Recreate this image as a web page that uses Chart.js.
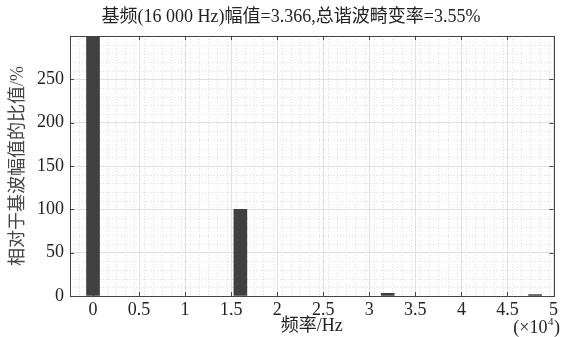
<!DOCTYPE html>
<html><head><meta charset="utf-8">
<script src="https://cdn.jsdelivr.net/npm/chart.js@4"></script>
<style>html,body{margin:0;padding:0;background:#fff}#c{display:block}</style>
</head><body>
<div style="width:561px;height:337px"><canvas id="c" width="561" height="337"></canvas></div>
<script>
const titleText = '基频(16 000 Hz)幅值=3.366,总谐波畸变率=3.55%';
const xTitle = '频率/Hz';
const yTitle = '相对于基波幅值的比值/%';
const freqs = [0, 16000, 32000, 48000];
const ratios = [300, 100, 3, 1.5];
const xTicks = [0, 5000, 10000, 15000, 20000, 25000, 30000, 35000, 40000, 45000, 50000];
const yTicks = [0, 50, 100, 150, 200, 250];
const xRange = [-2500, 50000];
const yRange = [0, 300];
const xMinorStep = 1000;
const yMinorStep = 10;

const FONT = "'Liberation Serif','Noto Sans CJK SC',serif";

const framePlugin = {
  id: 'frame',
  beforeDatasetsDraw(chart) {
    const {ctx, chartArea: a, scales: {x, y}} = chart;
    ctx.save();
    ctx.strokeStyle = '#dedede';
    ctx.lineWidth = 1;
    ctx.setLineDash([1, 2]);
    for (let v = xRange[0]; v <= xRange[1]; v += xMinorStep) {
      if (xTicks.includes(v)) continue;
      const px = Math.round(x.getPixelForValue(v)) + 0.5;
      ctx.beginPath(); ctx.moveTo(px, a.top); ctx.lineTo(px, a.bottom); ctx.stroke();
    }
    for (let v = yRange[0]; v <= yRange[1]; v += yMinorStep) {
      if (yTicks.includes(v)) continue;
      const py = Math.round(y.getPixelForValue(v)) + 0.5;
      ctx.beginPath(); ctx.moveTo(a.left, py); ctx.lineTo(a.right, py); ctx.stroke();
    }
    ctx.restore();
  },
  afterDatasetsDraw(chart) {
    const {ctx, chartArea: a, scales: {x, y}} = chart;
    ctx.save();
    ctx.strokeStyle = '#444';
    ctx.lineWidth = 1;
    ctx.setLineDash([]);
    ctx.strokeRect(Math.round(a.left) + 0.5, Math.round(a.top) + 0.5, Math.round(a.right - a.left), Math.round(a.bottom - a.top));
    const L = 4;
    ctx.beginPath();
    xTicks.forEach(v => {
      const px = Math.round(x.getPixelForValue(v)) + 0.5;
      ctx.moveTo(px, a.bottom); ctx.lineTo(px, a.bottom - L);
      ctx.moveTo(px, a.top); ctx.lineTo(px, a.top + L);
    });
    yTicks.forEach(v => {
      const py = Math.round(y.getPixelForValue(v)) + 0.5;
      ctx.moveTo(a.left, py); ctx.lineTo(a.left + L, py);
      ctx.moveTo(a.right, py); ctx.lineTo(a.right - L, py);
    });
    ctx.stroke();
    ctx.fillStyle = '#222';
    ctx.textAlign = 'center';
    ctx.textBaseline = 'middle';
    ctx.font = "18px " + FONT;
    ctx.fillText(titleText, 291, 17);
    ctx.textBaseline = 'alphabetic';
    ctx.textAlign = 'left';
    const p1 = '(×10', p3 = ')';
    ctx.font = "11px " + FONT;
    const w2 = ctx.measureText('4').width;
    ctx.font = "18px " + FONT;
    const w1 = ctx.measureText(p1).width, w3 = ctx.measureText(p3).width;
    let sx = chart.width - 2 - (w1 + w2 + w3);
    const by = 333;
    ctx.fillText(p1, sx, by);
    ctx.font = "11px " + FONT;
    ctx.fillText('4', sx + w1 + 0.5, by - 8);
    ctx.font = "18px " + FONT;
    ctx.fillText(p3, sx + w1 + w2 + 1, by);
    ctx.restore();
  }
};

new Chart(document.getElementById('c'), {
  type: 'bar',
  data: {
    datasets: [{
      data: freqs.map((f, i) => ({x: f, y: ratios[i]})),
      backgroundColor: '#404040',
      borderWidth: 0,
      barThickness: 13
    }]
  },
  options: {
    responsive: false,
    animation: false,
    events: [],
    layout: {padding: {left: 0, right: 6, top: 36, bottom: 0}},
    plugins: {
      legend: {display: false},
      tooltip: {enabled: false},
      title: {display: false}
    },
    scales: {
      x: {
        type: 'linear', min: xRange[0], max: xRange[1], offset: false,
        afterBuildTicks: s => { s.ticks = xTicks.map(v => ({value: v})); },
        afterFit: s => { s.height = 41; },
        grid: {color: '#e0e0e0', drawTicks: false, offset: false},
        border: {display: false},
        ticks: {
          color: '#222', padding: 3, maxRotation: 0, autoSkip: false,
          font: {family: FONT, size: 18},
          callback: v => String(v / 10000)
        },
        title: {display: true, text: xTitle, color: '#222', font: {family: FONT, size: 18}, padding: {top: 0, bottom: 0}}
      },
      y: {
        type: 'linear', min: yRange[0], max: yRange[1],
        afterBuildTicks: s => { s.ticks = yTicks.map(v => ({value: v})); },
        afterFit: s => { s.width = 70; },
        grid: {color: '#e0e0e0', drawTicks: false},
        border: {display: false},
        ticks: {color: '#222', padding: 6, font: {family: FONT, size: 18}},
        title: {display: true, text: yTitle, color: '#444', font: {family: FONT, size: 18}, padding: {top: 7, bottom: 0}}
      }
    }
  },
  plugins: [framePlugin]
});
</script>
</body></html>
